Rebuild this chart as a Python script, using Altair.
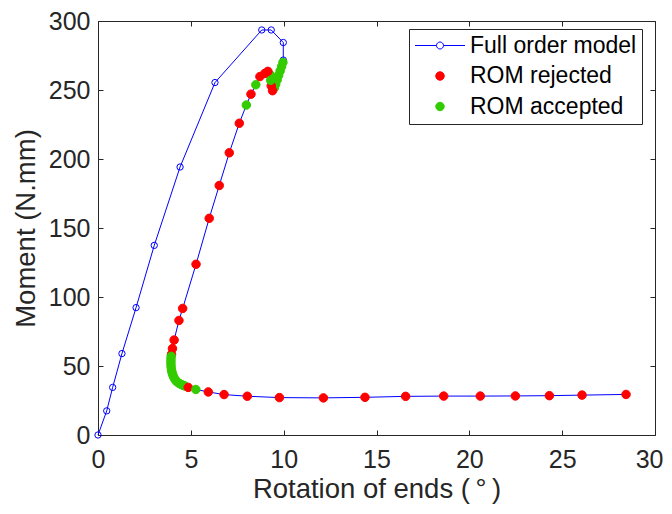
import altair as alt
import pandas as pd

# ---------------- data ----------------
# Full order model: loading branch (points drawn with open circles)
fom_x = [0.0, 0.47, 0.79, 1.29, 2.05, 3.03, 4.42, 6.30, 8.82, 9.33, 9.98, 9.98]
fom_y = [0.0, 17.5, 34.5, 59.0, 92.3, 137.4, 194.2, 255.4, 293.5, 293.5, 284.4, 271.7]

# ROM points along the post-buckling path (1 = accepted, 0 = rejected)
rom_x = [9.96, 9.89, 9.81, 9.73, 9.65, 9.57, 9.50, 9.40, 9.33, 9.30, 9.28, 9.15, 8.98,
         8.72, 8.50, 8.24, 7.99, 7.61, 7.07, 6.53, 5.99, 5.28, 4.56, 4.36, 4.10, 4.01,
         3.96, 3.94, 3.93, 3.93, 3.93, 3.94, 3.96, 3.99, 4.03, 4.08, 4.14, 4.21, 4.29,
         4.38, 4.48, 4.58, 4.68, 4.86, 5.27, 5.94, 6.79, 8.04, 9.77, 12.14, 14.38,
         16.57, 18.62, 20.59, 22.48, 24.31, 26.07, 28.44]
rom_y = [270.0, 267.0, 263.8, 260.6, 257.4, 254.2, 251.5, 249.5, 253.0, 257.0, 261.0,
         263.5, 262.0, 259.7, 253.8, 247.0, 239.1, 225.9, 204.5, 180.8, 157.0, 123.7,
         91.7, 83.0, 68.8, 62.6, 58.5, 57.0, 55.0, 53.0, 51.0, 49.0, 47.0, 45.2, 43.5,
         41.9, 40.4, 39.2, 38.2, 37.3, 36.6, 36.0, 35.5, 34.5, 33.0, 31.2, 29.3, 28.1,
         27.1, 26.9, 27.3, 28.0, 28.2, 28.2, 28.3, 28.5, 28.9, 29.4]
rom_ok = [1, 1, 1, 1, 1, 1, 1, 0, 0, 1, 1, 0, 0,
          0, 1, 0, 1, 0, 0, 0, 0, 0, 0, 0, 0, 0,
          0, 1, 1, 1, 1, 1, 1, 1, 1, 1, 1, 1, 1,
          1, 1, 1, 1, 0, 1, 0, 0, 0, 0, 0, 0,
          0, 0, 0, 0, 0, 0, 0]

series = ["Full order model", "ROM rejected", "ROM accepted"]
x_ticks = [0, 5, 10, 15, 20, 25, 30]
y_ticks = [0, 50, 100, 150, 200, 250, 300]

# ---------------- styling ----------------
FONT = "Liberation Sans"
DARK = "#262626"
BLUE = "#0000ff"
RED = "#ff0000"
GREEN = "#33cc00"
W, H = 557, 414

FOM_SYM = ("M-1,0L-0.14,0M0.14,0L1,0M-0.14,0A0.14 0.14 0 1 0 0.14,0"
           "A0.14 0.14 0 1 0 -0.14,0Z")
DOT = "M-0.17,0A0.17 0.17 0 1 0 0.17,0A0.17 0.17 0 1 0 -0.17,0Z"

line_df = pd.DataFrame({
    "i": list(range(len(fom_x) + len(rom_x))),
    "x": fom_x + rom_x,
    "y": fom_y + rom_y,
})
fom_df = pd.DataFrame({"x": fom_x, "y": fom_y})
rom_df = pd.DataFrame({
    "x": rom_x,
    "y": rom_y,
    "series": [series[2] if ok else series[1] for ok in rom_ok],
})

x_scale = alt.Scale(domain=[0, 30], nice=False, zero=False)
y_scale = alt.Scale(domain=[0, 300], nice=False, zero=False)

lab_common = dict(grid=False, ticks=False, domain=False, labelFont=FONT,
                  labelFontSize=25, labelColor=DARK, labelFlush=False,
                  labelOverlap=False, titleFont=FONT, titleFontSize=27.5,
                  titleFontWeight="normal", titleColor=DARK)
last_x = x_ticks[-1]
x_lab = alt.Axis(
    orient="bottom", values=x_ticks, labelPadding=12,
    labelAlign={"condition": {"test": f"datum.value == {last_x}", "value": "right"}, "value": "center"},
    labelOffset={"condition": {"test": f"datum.value == {last_x}", "value": 8}, "value": 0},
    title="Rotation of ends (\u2009°\u2009)", titlePadding=3, **lab_common)
y_lab = alt.Axis(orient="left", values=y_ticks, labelPadding=8,
                 title="Moment (N.mm)", titlePadding=8, **lab_common)

tick_common = dict(grid=False, labels=False, domain=False, ticks=True,
                   tickSize=5, tickColor=DARK, tickWidth=1, title=None)
x_tick_a = alt.Axis(orient="top", offset=-H, values=x_ticks, **tick_common)
y_tick_a = alt.Axis(orient="right", offset=-W, values=y_ticks, **tick_common)
x_tick_b = alt.Axis(orient="bottom", offset=-H, values=x_ticks, **tick_common)
y_tick_b = alt.Axis(orient="left", offset=-W, values=y_ticks, **tick_common)

line = alt.Chart(line_df).mark_line(color=BLUE, strokeWidth=1).encode(
    x=alt.X("x:Q", scale=x_scale, axis=x_lab),
    y=alt.Y("y:Q", scale=y_scale, axis=y_lab),
    order="i:Q",
)

fom_pts = alt.Chart(fom_df).mark_point(
    shape="circle", size=40, filled=False, color=BLUE, strokeWidth=1, opacity=1
).encode(
    x=alt.X("x:Q", scale=x_scale, axis=x_tick_a),
    y=alt.Y("y:Q", scale=y_scale, axis=y_tick_a),
)

leg = alt.Legend(title=None)
rom_pts = alt.Chart(rom_df).mark_point(
    filled=True, size=2500, strokeWidth=1, opacity=1
).encode(
    x=alt.X("x:Q", scale=x_scale, axis=x_tick_b),
    y=alt.Y("y:Q", scale=y_scale, axis=y_tick_b),
    fill=alt.Fill("series:N", scale=alt.Scale(domain=series, range=["transparent", RED, GREEN]), legend=leg),
    stroke=alt.Stroke("series:N", scale=alt.Scale(domain=series, range=[BLUE, RED, GREEN]), legend=leg),
    shape=alt.Shape("series:N", scale=alt.Scale(domain=series, range=[FOM_SYM, DOT, DOT]), legend=leg),
)

chart = alt.layer(line, fom_pts, rom_pts).resolve_axis(
    x="independent", y="independent"
).properties(
    width=W, height=H,
    autosize=alt.AutoSizeParams(type="none"),
    padding={"left": 90, "top": 13, "right": 9, "bottom": 71},
    background="white",
).configure_view(
    stroke=DARK, strokeWidth=1
).configure_legend(
    orient="none", legendX=311, legendY=8, padding=5.5, strokeColor=DARK,
    fillColor="white", labelFont=FONT, labelFontSize=23, labelColor="black",
    labelLimit=400, symbolSize=2500, symbolStrokeWidth=1, clipHeight=22,
    rowPadding=7.5, labelOffset=4.5, cornerRadius=0,
)

chart.save("out.html", embed_options={"renderer": "svg", "actions": False})
